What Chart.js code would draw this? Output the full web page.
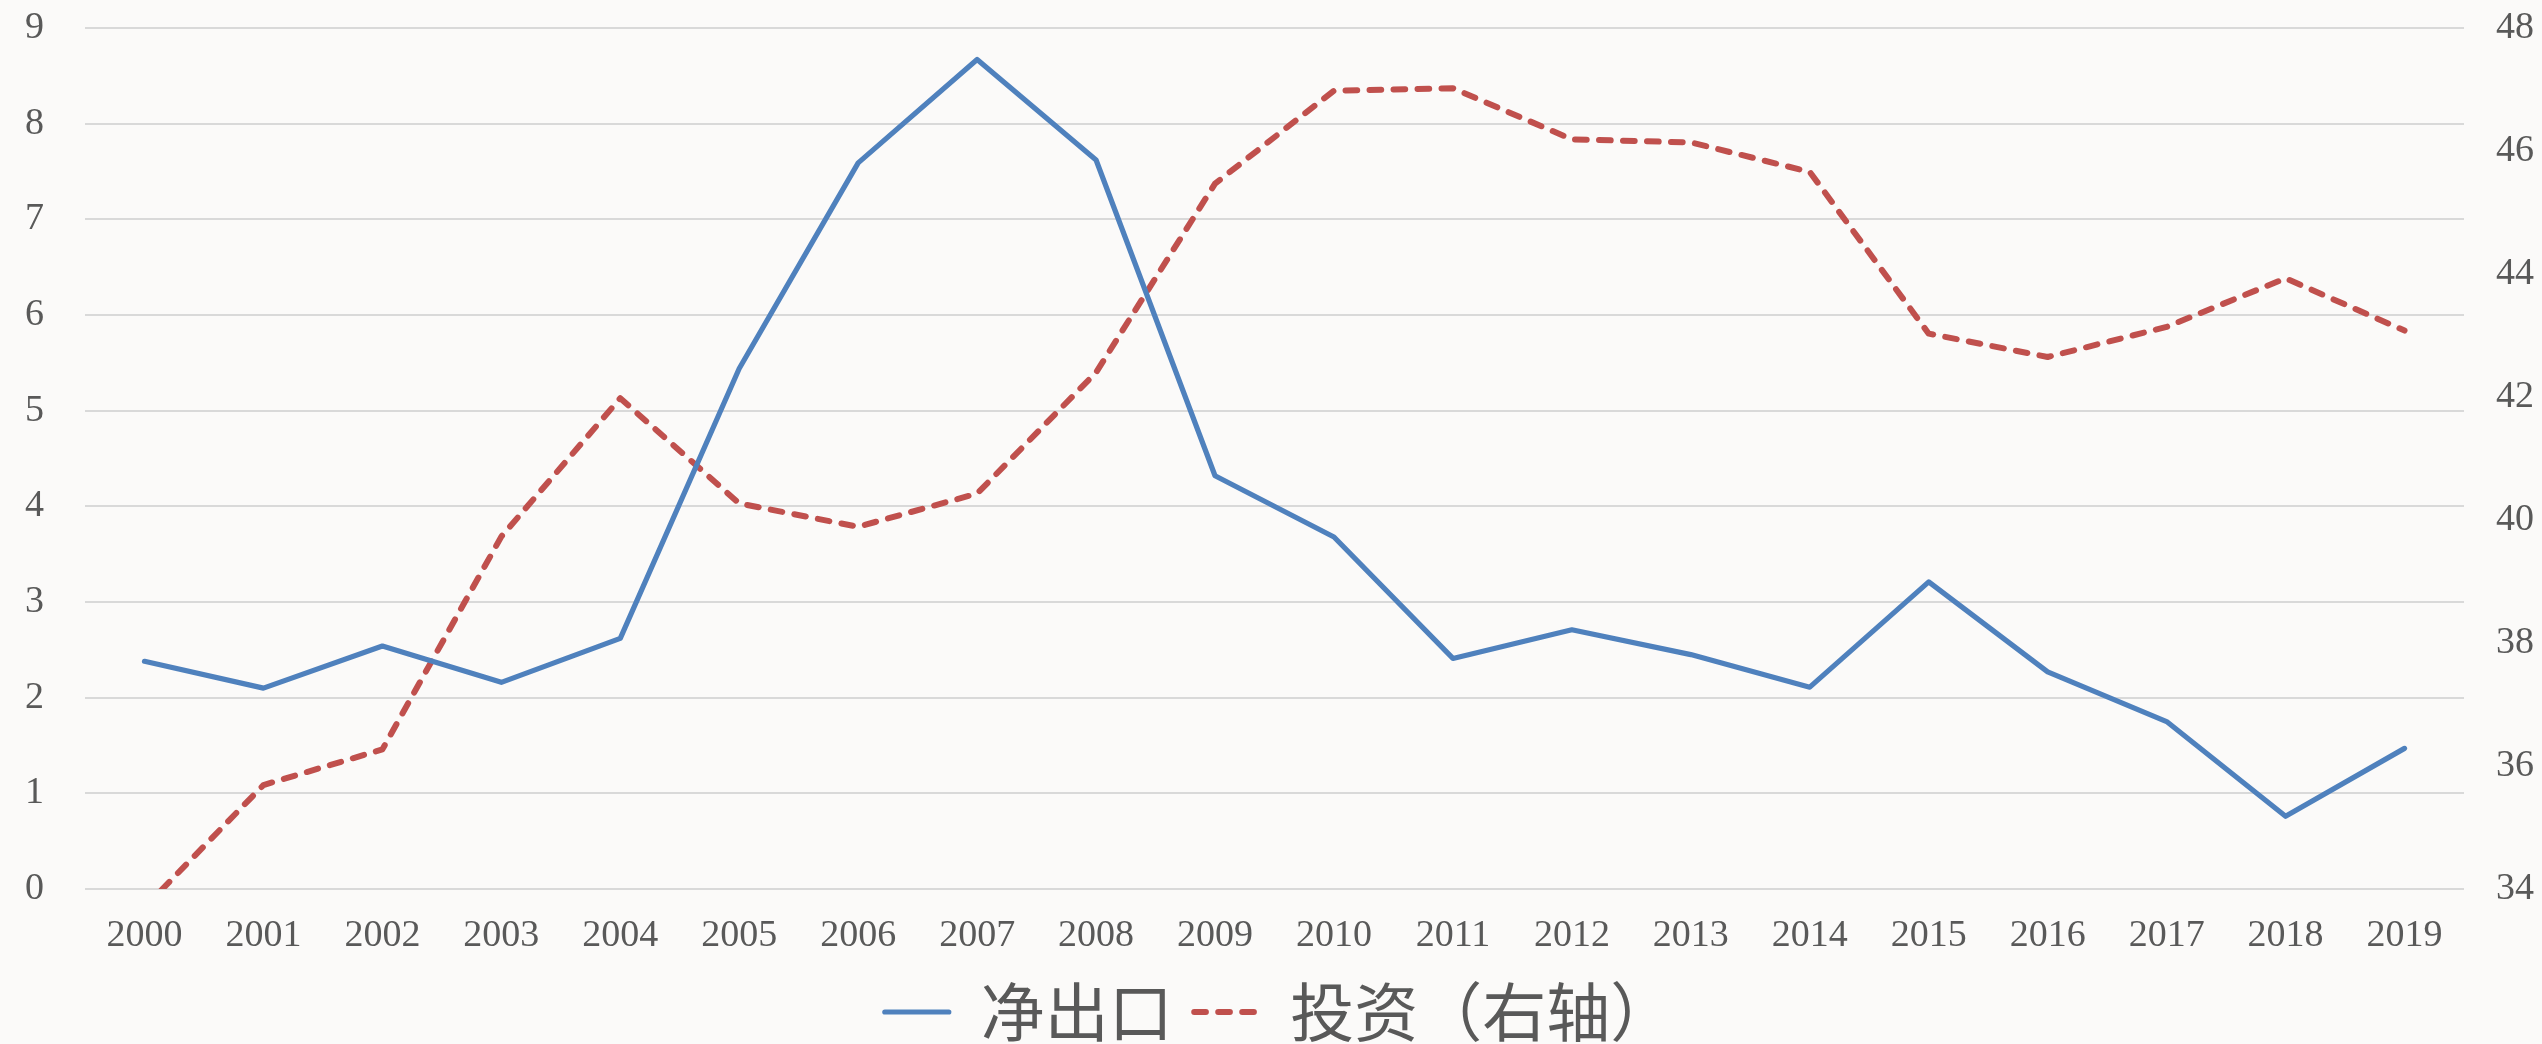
<!DOCTYPE html>
<html>
<head>
<meta charset="utf-8">
<script src="https://cdn.jsdelivr.net/npm/chart.js@4.4.1/dist/chart.umd.min.js"></script>
<style>
  html, body { margin: 0; padding: 0; background: #FBFAF9; }
  #wrap { width: 2542px; height: 1044px; }
</style>
</head>
<body>
<div id="wrap"><canvas id="c" width="2542" height="1044"></canvas></div>
<script>
const years = ['2000','2001','2002','2003','2004','2005','2006','2007','2008','2009',
               '2010','2011','2012','2013','2014','2015','2016','2017','2018','2019'];
const netExport = [2.38, 2.10, 2.54, 2.16, 2.62, 5.44, 7.59, 8.67, 7.62, 4.32,
                   3.68, 2.41, 2.71, 2.45, 2.11, 3.21, 2.27, 1.75, 0.76, 1.47];
const investment = [33.7, 35.69, 36.27, 39.73, 41.98, 40.27, 39.89, 40.43, 42.4, 45.47,
                    46.98, 47.02, 46.19, 46.14, 45.66, 43.03, 42.65, 43.14, 43.93, 43.08];
const seriesNames = ['净出口', '投资（右轴）'];

const bgPlugin = {
  id: 'bg',
  beforeDraw(chart) {
    const ctx = chart.ctx;
    ctx.save();
    ctx.fillStyle = '#FBFAF9';
    ctx.fillRect(0, 0, chart.width, chart.height);
    ctx.restore();
  }
};

const tickFont = { family: '"Liberation Serif", "Times New Roman", serif', size: 38 };

new Chart(document.getElementById('c'), {
  type: 'line',
  data: {
    labels: years,
    datasets: [
      {
        label: seriesNames[0],
        data: netExport,
        yAxisID: 'y',
        borderColor: '#4F81BD',
        backgroundColor: '#4F81BD',
        borderWidth: 5.2,
        pointRadius: 0,
        tension: 0,
        borderJoinStyle: 'round',
        borderCapStyle: 'round',
        clip: 0
      },
      {
        label: seriesNames[1],
        data: investment,
        yAxisID: 'y1',
        borderColor: '#C0504D',
        backgroundColor: '#C0504D',
        borderWidth: 6,
        borderDash: [11.7, 12.3],
        borderCapStyle: 'round',
        borderJoinStyle: 'round',
        pointRadius: 0,
        tension: 0,
        clip: 0
      }
    ]
  },
  options: {
    responsive: false,
    animation: false,
    devicePixelRatio: 1,
    layout: { padding: { left: 25, right: 8, top: 28, bottom: -10 } },
    plugins: {
      legend: {
        position: 'bottom',
        align: 'center',
        labels: {
          usePointStyle: true,
          pointStyle: 'line',
          pointStyleWidth: 64,
          padding: 21.4,
          color: '#595959',
          font: { family: '"Noto Sans CJK SC", sans-serif', size: 64 },
          generateLabels(chart) {
            const items = Chart.defaults.plugins.legend.labels.generateLabels(chart);
            items.forEach(it => {
              const ds = chart.data.datasets[it.datasetIndex];
              it.lineDash = ds.borderDash || [];
              it.lineCap = ds.borderCapStyle || 'butt';
              it.lineWidth = ds.borderWidth;
              it.strokeStyle = ds.borderColor;
              it.fillStyle = ds.borderColor;
              it.pointStyle = 'line';
            });
            return items;
          }
        }
      },
      tooltip: { enabled: false }
    },
    scales: {
      x: {
        type: 'category',
        offset: true,
        grid: { display: false, drawTicks: false },
        border: { display: false },
        ticks: { color: '#595959', font: tickFont, padding: 24, maxRotation: 0, autoSkip: false },
        afterFit(scale) { scale.height = 69.6; scale.paddingLeft = 0; scale.paddingRight = 0; }
      },
      y: {
        position: 'left',
        min: 0,
        max: 9,
        grid: { color: '#D9D9D9', lineWidth: 2, drawTicks: false },
        border: { display: false },
        ticks: { stepSize: 1, color: '#595959', font: tickFont, padding: 41 },
        afterFit(scale) { scale.width = 60; scale.paddingTop = 0; scale.paddingBottom = 0; }
      },
      y1: {
        position: 'right',
        min: 34,
        max: 48,
        grid: { drawOnChartArea: false, drawTicks: false },
        border: { display: false },
        ticks: { stepSize: 2, color: '#595959', font: tickFont, padding: 32 },
        afterFit(scale) { scale.width = 70; scale.paddingTop = 0; scale.paddingBottom = 0; }
      }
    }
  },
  plugins: [bgPlugin]
});
</script>
</body>
</html>
